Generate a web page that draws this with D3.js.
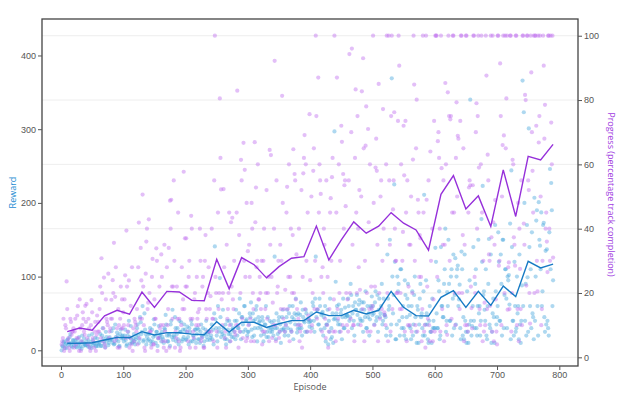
<!DOCTYPE html>
<html>
<head>
<meta charset="utf-8">
<script src="https://cdn.jsdelivr.net/npm/d3@7"></script>
<style>
  body { margin: 0; background: #fff; }
  svg { display: block; font-family: "Open Sans", sans-serif; }
  .tick text { fill: #555; font-size: 9px; }
  .tick line { stroke: #555; }
  .grid line { stroke: #eeeeee; }
</style>
</head>
<body>
<script>
// reward per episode, odd episodes 1, 3, ... 789
var rewardOdd = [
  0,5,12,8,3,15,9,22,6,14,  7,14,4,10,18,6,2,11,16,7,  12,5,20,8,3,14,9,17,6,9,
  9,22,6,30,12,4,18,15,10,14,  26,10,8,35,14,20,5,22,16,20,  12,28,6,20,40,9,15,11,22,8,
  18,35,10,45,22,60,14,28,8,13,  15,30,8,12,42,20,25,6,33,17,  12,18,10,28,35,12,20,6,40,55,
  20,45,12,30,8,25,38,15,18,28,  15,32,8,25,40,12,20,28,10,30,  28,10,35,18,6,22,40,14,25,14,
  20,15,8,141,30,12,25,98,18,22,  30,15,8,40,22,12,35,28,18,40,  55,20,30,70,15,45,25,60,40,20,
  25,50,65,18,40,30,55,12,45,40,  20,45,12,35,60,25,18,40,30,25,  20,127,15,30,40,25,10,45,28,20,
  35,55,20,60,28,45,15,50,70,24,  50,30,65,20,45,38,55,25,42,32,  40,30,60,25,127,55,35,70,28,50,
  20,30,12,35,8,25,15,18,10,297,  93,60,35,25,50,15,70,30,45,47,  70,40,90,30,60,20,55,75,35,68,
  40,65,25,55,80,30,45,20,60,73,  60,35,80,45,25,70,50,90,40,48,  45,30,70,60,20,369,50,225,15,35,
  80,40,110,30,60,20,75,45,90,33,  30,60,20,75,45,10,55,35,90,50,  20,211,35,50,15,40,25,10,30,30,
  139,50,30,80,20,60,45,90,165,40,  60,90,40,110,70,30,125,100,115,69,  30,134,20,15,40,10,25,35,340,20,
  60,40,90,30,60,50,20,178,223,80,  40,20,60,151,30,10,50,45,170,35,  60,120,40,90,150,30,110,70,100,102,
  172,244,40,20,60,30,50,15,35,40,  366,323,40,20,99,301,60,30,50,15,  40,176,60,201,142,187,80,173,25,35,
  40,20,246,227,60
];
// reward, even episodes 2, 4, ... 790
var rewardEven = [
  6,11,3,9,14,7,18,10,4,13,  10,5,15,8,3,12,20,6,9,7,  8,14,4,11,22,7,10,5,16,6,
  11,6,20,16,9,25,13,7,18,15,  14,30,9,18,24,12,6,28,19,16,  20,14,8,25,18,33,10,16,12,15,
  30,20,15,38,25,12,50,22,18,23,  22,12,28,18,35,10,25,16,20,22,  25,15,30,48,20,12,22,35,18,14,
  18,30,22,15,40,25,12,28,35,14,  25,18,30,12,35,20,15,28,22,15,  15,25,20,30,12,28,18,22,25,17,
  35,28,50,42,20,60,30,45,25,55,  20,35,15,28,40,22,18,30,25,15,  40,30,50,25,45,35,60,28,42,25,
  35,45,28,50,20,42,60,30,38,32,  28,40,22,35,18,45,30,25,38,29,  40,30,50,22,45,35,28,55,30,25,
  45,30,50,38,25,60,42,35,48,29,  35,48,30,55,40,25,50,42,38,39,  50,65,40,70,45,55,35,60,48,52,
  45,60,35,55,40,70,30,50,42,43,  50,40,62,35,55,45,30,58,48,47,  60,45,75,50,40,65,55,48,62,43,
  55,40,65,45,30,60,50,42,58,48,  50,65,40,75,55,45,60,35,70,48,  20,130,55,150,35,100,75,120,15,100,
  90,20,110,45,30,95,15,70,60,48,  15,80,35,100,25,60,10,70,45,30,  80,20,95,35,10,60,25,70,40,30,
  120,30,95,15,140,60,45,110,25,79,  150,40,100,20,130,75,35,110,60,89,  15,110,45,130,25,80,10,95,40,33,
  140,30,110,20,150,60,40,120,75,55,  110,15,90,35,130,25,70,10,80,45,  160,40,130,20,150,75,110,30,95,62,
  15,140,40,120,25,100,60,130,10,88,  60,200,90,170,25,140,110,160,45,207,  100,190,20,150,110,60,170,45,135,137,
  30,160,110,190,95
];

// progress (% track completion), odd episodes
var progressOdd = [
  4,6,2,10,23.6,5,3,12,7,8,  3,12,6,15.9,2,9,5,14,8,16,  16.6,4,9,2,17.8,6,3,11,7,8,
  8,22,30.8,5,24.8,3,12,10,6,9,  17.9,24,35.6,18.8,6,3,10,12,9,9,  10,25.5,39.4,8,23.9,6,4,2,5,11,
  8,4,41.9,12,23.9,50.6,10,2,36,15,  42.9,8,3,30.6,4,12,33.9,2,6,9,  32,5,3,8,2,10,34,48.7,49,12,
  55,3,6,12,5,2,10,15,57.7,37,  37,8,25,3,44,12,6,20,10,12,  10,40,5,22,3,30,15,8,28,15,
  8,12,5,100,20,3,15,80.5,52.2,10,  52.3,6,3,12,20,10,42,43.4,15,8,  10,82.9,3,8,61.4,12,66.7,58.3,5,6,
  10,25,5,40,15,66.9,52.8,30,18,25,  15,4,30,8,20,12,25,64.5,62.9,6,  10,92.2,5,20,30,8,15,81.3,12,8,
  10,53,25,5,40,20,64.7,57,18,15,  12,5,10,3,57.2,69.1,60,8,13,75.6,  8,10,58,15,100,12,87,60,50.8,8,
  20,35,6,10,3,15,49.5,56,8,100,  5,87,12,20,8,67,57,53.5,47,10,  8,94.3,12,96,10,5,83.3,20,40,52,
  10,82.7,93,5,65.8,20,71,15,8,15,  100,10,59,58,5,20,50,15,77.2,14,  10,100,5,55,8,100,46,76.2,30,20,
  73.5,90.7,20,15,39,56.6,73.5,5,10,35,  35,8,61.5,84.8,10,80.1,49,25,37,5,  100,8,3,49,12,10,64,8,5,73.5,
  100,100,67.2,62,8,58.8,35,5,85.3,10,  82.4,75,74,12,100,45,10,79.3,68.9,20,  73.5,100,38,5,10,100,8,52.8,53.5,15.3,
  53.5,100,20,79,75,59,10,100,5,8,  10,87.6,63,32,16,37.3,100,5,48.9,8,  100,28.5,91.4,10,66,69,100,80.5,14.8,29.5,
  100,8,61.4,37.3,28.5,100,15,5,27.5,55,  100,41.6,81.6,22.3,100,52,10.5,88.6,58,100,  100,72,20.5,66.8,100,10,30,90.7,78.5,45,
  26.5,100,30,73,100
];
// progress, even episodes
var progressEven = [
  5,12,3,9,15,6,2,11,8,9,  8,4,13,6,18,2,10,12,7,11,  6,12,3,10,14,5,8,2,13,11,
  15,6,20,9,4,18,11,26,8,12,  12,20,5,28,9,15,3,22,18,14,  18,6,22,10,3,16,28,9,12,10,
  15,28,6,34,12,22,3,26,40,17,  20,8,25,4,18,12,30,6,22,10,  25,10,35,5,28,15,3,40,22,22,
  30,8,22,45,12,3,28,18,15,22,  22,5,30,12,40,8,18,3,25,14,  15,30,6,25,3,38,12,20,8,19,
  40,12,55,25,8,45,20,62,18,20,  28,8,35,15,45,5,22,18,30,7,  45,10,38,20,55,6,30,25,48,33,
  35,12,48,20,5,42,28,60,18,20,  30,8,40,15,52,20,5,35,25,17,  40,10,55,22,6,35,30,48,15,21,
  45,15,60,25,8,38,20,55,32,10,  40,8,52,25,62,15,30,45,12,24,  50,20,65,30,75,15,45,55,25,28,
  40,12,55,25,8,45,30,62,18,8,  45,15,60,30,72,10,40,55,20,18,  55,20,70,35,10,62,45,75,28,21,
  50,15,65,30,78,8,42,60,22,16,  48,22,68,35,85,12,55,30,40,13,  60,20,100,35,75,15,55,40,30,20,
  100,15,60,30,72,8,45,55,22,10,  50,20,100,30,65,8,45,38,25,15,  45,10,100,22,55,5,30,40,18,8,
  100,25,70,40,100,15,55,35,60,7,  100,30,75,45,100,20,62,50,68,15,  100,20,65,35,100,10,45,55,22,9,
  100,25,70,40,100,15,60,45,30,17,  100,15,55,30,100,8,42,35,18,4,  100,30,75,50,100,20,65,100,28,15,
  100,20,60,35,100,10,48,40,15,10,  100,35,80,100,55,20,100,70,45,20,  100,30,100,75,50,15,100,68,40,36,
  100,40,100,60,31
];

// 20-episode averages
var avgEpisodes = [10,30,50,70,90,110,130,150,170,190,210,230,250,270,290,310,330,350,370,390,
                   410,430,450,470,490,510,530,550,570,590,610,630,650,670,690,710,730,750,770,790];
var avgReward = [9.5,9.5,10.3,14,17.6,17.1,25.3,20.8,23.9,23.9,22,21.2,38.8,24.8,38,38,31,36,40.2,40.2,
                 52,47,47,54.3,49.3,54.3,80,58.3,47,46.5,71.9,80.9,58.3,80,61,87.2,72.8,120.7,111.7,117];
var avgProgress = [8,9.1,8.4,12.9,14.6,13.4,20.3,15.5,20.5,20.3,17.7,17.6,30.5,21.3,31,28.8,24.7,28.2,30.8,31.3,
                   40.8,30.3,36.5,42.1,38.6,40.8,45,41.7,39.6,33.3,50.7,56.5,46.1,50.2,40.7,58.3,43.8,62.5,61.4,66.2];

var xTicks = [0,100,200,300,400,500,600,700,800],
    rewardTicks = [0,100,200,300,400],
    progressTicks = [0,20,40,60,80,100];

var width = 623, height = 396,
    plotLeft = 42, plotRight = 578, plotTop = 19, plotBottom = 366,
    blue = "rgb(22,122,196)", purple = "rgb(150,48,218)";

var x = d3.scaleLinear().domain([-30.5, 830]).range([plotLeft, plotRight]);
var yReward = d3.scaleLinear().domain([-21.3, 449.5]).range([plotBottom, plotTop]);
var yProgress = d3.scaleLinear().domain([-2.7, 105.2]).range([plotBottom, plotTop]);

var svg = d3.select("body").append("svg")
    .attr("width", width)
    .attr("height", height);

// grid from the right axis
svg.append("g")
    .attr("class", "grid")
    .selectAll("line")
    .data(progressTicks)
    .enter()
    .append("line")
    .attr("x1", plotLeft)
    .attr("x2", plotRight)
    .attr("y1", function(d){ return yProgress(d); })
    .attr("y2", function(d){ return yProgress(d); });

function toPoints(odd, even) {
    var pts = [];
    odd.forEach(function(v, i){ pts.push({ep: 2 * i + 1, v: v}); });
    even.forEach(function(v, i){ pts.push({ep: 2 * i + 2, v: v}); });
    return pts;
}
var rewardData = toPoints(rewardOdd, rewardEven);
var progressData = toPoints(progressOdd, progressEven);

svg.append("g")
    .selectAll("circle")
    .data(rewardData)
    .enter()
    .append("circle")
    .attr("cx", function(d){ return x(d.ep); })
    .attr("cy", function(d){ return yReward(d.v); })
    .attr("r", 2.1)
    .attr("fill", "rgb(75,168,222)")
    .attr("fill-opacity", 0.45);

svg.append("g")
    .selectAll("circle")
    .data(progressData)
    .enter()
    .append("circle")
    .attr("cx", function(d){ return x(d.ep); })
    .attr("cy", function(d){ return yProgress(d.v); })
    .attr("r", 2.1)
    .attr("fill", "rgb(192,112,240)")
    .attr("fill-opacity", 0.45);

var rewardLine = d3.line()
    .x(function(d, i){ return x(avgEpisodes[i]); })
    .y(function(d){ return yReward(d); });
var progressLine = d3.line()
    .x(function(d, i){ return x(avgEpisodes[i]); })
    .y(function(d){ return yProgress(d); });

svg.append("path")
    .attr("d", rewardLine(avgReward))
    .attr("fill", "none")
    .attr("stroke", blue)
    .attr("stroke-width", 1.4);

svg.append("path")
    .attr("d", progressLine(avgProgress))
    .attr("fill", "none")
    .attr("stroke", purple)
    .attr("stroke-width", 1.4);

// frame
svg.append("rect")
    .attr("x", plotLeft)
    .attr("y", plotTop)
    .attr("width", plotRight - plotLeft)
    .attr("height", plotBottom - plotTop)
    .attr("fill", "none")
    .attr("stroke", "#444")
    .attr("stroke-width", 1.3);

svg.append("g")
    .attr("transform", "translate(0," + plotBottom + ")")
    .call(d3.axisBottom(x).tickValues(xTicks).tickSize(4).tickPadding(1.5).tickSizeOuter(0))
    .call(function(g){ g.select(".domain").remove(); });

svg.append("g")
    .attr("transform", "translate(" + plotLeft + ",0)")
    .call(d3.axisLeft(yReward).tickValues(rewardTicks).tickSize(4).tickPadding(2).tickSizeOuter(0))
    .call(function(g){ g.select(".domain").remove(); });

svg.append("g")
    .attr("transform", "translate(" + plotRight + ",0)")
    .call(d3.axisRight(yProgress).tickValues(progressTicks).tickSize(4).tickPadding(2).tickSizeOuter(0))
    .call(function(g){ g.select(".domain").remove(); });

svg.append("text")
    .attr("x", (plotLeft + plotRight) / 2)
    .attr("y", 390)
    .attr("text-anchor", "middle")
    .attr("font-size", 9)
    .attr("fill", "#555")
    .text("Episode");

svg.append("text")
    .attr("transform", "translate(16," + (plotTop + plotBottom) / 2 + ") rotate(-90)")
    .attr("text-anchor", "middle")
    .attr("font-size", 9)
    .attr("fill", "rgb(30,140,210)")
    .text("Reward");

svg.append("text")
    .attr("transform", "translate(608," + (plotTop + plotBottom + 4) / 2 + ") rotate(90)")
    .attr("text-anchor", "middle")
    .attr("font-size", 9)
    .attr("fill", "rgb(160,60,225)")
    .text("Progress (percentage track completion)");
</script>
</body>
</html>
